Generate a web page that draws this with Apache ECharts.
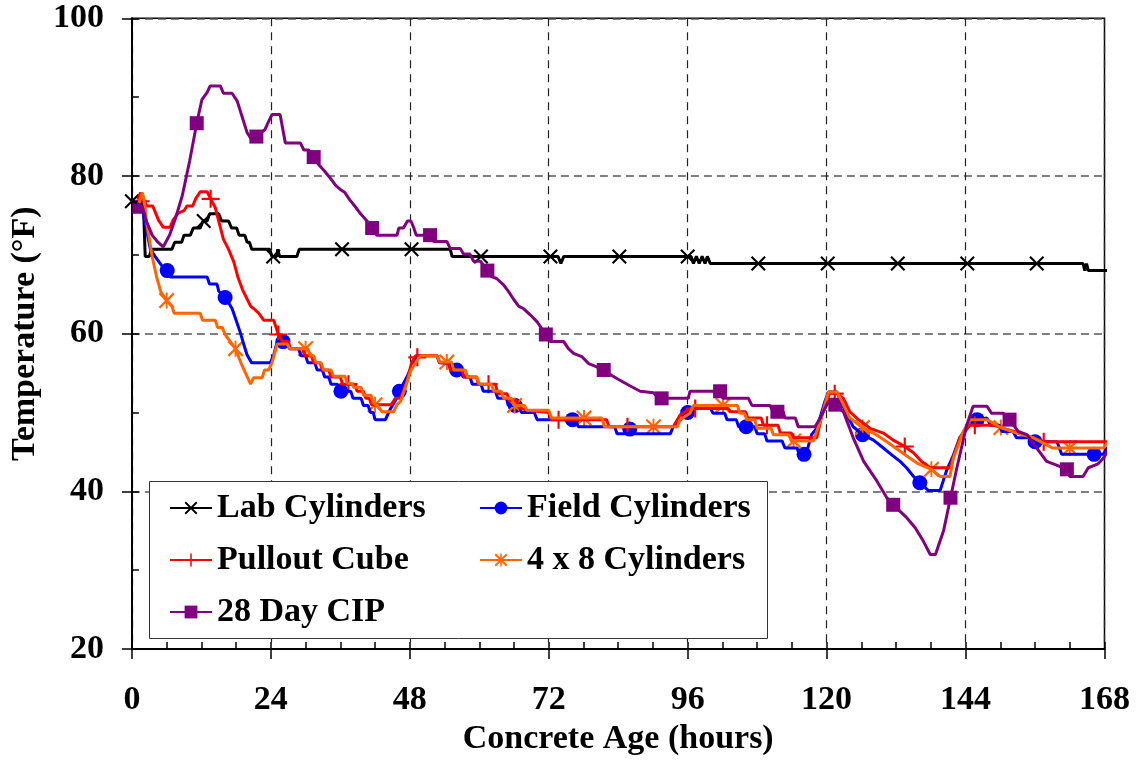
<!DOCTYPE html>
<html>
<head>
<meta charset="utf-8">
<title>Concrete temperature</title>
<script src="https://cdn.jsdelivr.net/npm/echarts@6/dist/echarts.min.js"></script>
<style>
  html, body { margin: 0; padding: 0; background: #fff; }
  #chart { width: 1142px; height: 761px; }
</style>
</head>
<body>
<div id="chart"></div>
<script>
// hours vs temperature (F)
var labCyl = [[0,76.8],[1.6,76.4],[2.0,76.0],[2.3,69.8],[3.0,69.8],[3.4,70.7],[6.9,70.7],[7.4,71.6],[8.6,71.6],[9.0,72.5],[10.1,72.5],[10.6,73.4],[11.8,73.4],[12.3,74.3],[13.0,74.3],[13.4,75.2],[15.0,75.2],[15.5,74.3],[16.7,74.3],[17.2,73.4],[18.1,73.4],[18.5,72.5],[19.5,72.5],[19.9,71.6],[20.3,71.6],[20.7,70.7],[23.8,70.7],[24.2,69.8],[25.0,69.8],[25.2,70.7],[25.5,69.8],[28.5,69.8],[28.9,70.7],[55.0,70.7],[55.3,69.8],[73.6,69.8],[74.1,68.9],[74.6,69.8],[96.6,69.8],[97.0,68.9],[97.5,69.8],[98.0,68.9],[98.5,69.8],[99.0,68.9],[99.4,69.8],[99.9,68.9],[164.3,68.9],[164.6,68.0],[164.9,68.9],[165.2,68.0],[169.5,68.0]];
var labMarks = [[0,76.8],[12.4,74.3],[24.4,69.8],[36.3,70.7],[48.3,70.7],[60.3,69.8],[72.3,69.8],[84.2,69.8],[96.0,69.8],[108.2,68.9],[120.2,68.9],[132.3,68.9],[144.3,68.9],[156.3,68.9]];

var fieldCyl = [[0.8,76.5],[1.8,76.1],[2.2,74.3],[2.7,72.5],[3.2,70.7],[4.0,69.8],[4.9,68.9],[5.8,68.0],[6.6,67.2],[13.0,67.2],[13.4,66.3],[14.7,66.3],[15.0,65.4],[15.6,64.9],[16.3,64.4],[17.3,63.2],[18.0,61.7],[18.7,60.2],[19.3,58.7],[19.9,57.3],[20.7,56.3],[23.9,56.3],[24.5,57.3],[25.1,59.0],[26.7,59.0],[27.2,58.1],[28.8,58.1],[29.2,57.2],[30.0,57.2],[30.4,56.3],[31.6,56.3],[32.0,55.4],[32.9,55.4],[33.3,54.5],[34.0,54.5],[34.4,53.6],[35.5,53.6],[35.9,52.7],[37.8,52.7],[38.2,51.8],[39.6,51.8],[40.0,50.9],[40.8,50.9],[41.2,50.0],[41.7,50.0],[42.0,49.1],[43.8,49.1],[44.6,50.4],[45.5,51.5],[46.2,52.7],[47.5,54.5],[48.4,56.0],[49.2,57.2],[52.7,57.2],[53.2,56.3],[55.0,56.3],[55.4,55.4],[56.8,55.4],[57.2,54.5],[58.4,54.5],[58.8,53.6],[60.3,53.6],[60.7,52.7],[62.8,52.7],[63.2,51.8],[64.7,51.8],[65.0,50.9],[66.9,50.9],[67.3,50.0],[69.5,50.0],[70.0,49.1],[76.6,49.1],[77.1,48.2],[83.4,48.2],[83.8,47.3],[93.0,47.3],[93.5,48.2],[94.8,49.1],[96.0,50.0],[96.8,50.6],[99.9,50.6],[100.4,49.9],[102.4,49.9],[102.8,49.1],[104.4,49.1],[104.8,48.2],[107.6,48.2],[108.0,47.3],[109.3,47.3],[109.7,46.4],[112.3,46.4],[112.8,45.5],[114.9,45.5],[115.3,44.6],[116.4,44.6],[117.4,47.2],[118.3,48.0],[119.7,51.4],[120.3,52.6],[121.8,52.6],[123.5,49.7],[124.6,48.2],[126.2,47.2],[128.1,46.5],[129.8,45.5],[131.3,44.6],[132.7,43.8],[133.8,43.0],[135.0,41.9],[136.1,41.1],[137.6,40.1],[139.6,40.1],[140.7,42.6],[141.9,44.6],[143.0,46.8],[144.8,48.9],[146.0,49.1],[147.7,49.3],[148.3,48.4],[149.8,48.4],[150.3,47.6],[152.2,47.6],[152.8,46.8],[155.0,46.8],[155.5,46.3],[159.8,46.3],[160.2,45.5],[160.6,44.7],[167.8,44.7],[168.4,45.5],[169.5,45.8]];
var fieldMarks = [[6.1,68.0],[16.1,64.6],[26.1,59.0],[36.1,52.7],[46.2,52.7],[56.1,55.4],[66.2,50.9],[76.1,49.1],[86.0,47.9],[96.0,50.0],[106.1,48.2],[116.1,44.7],[126.2,47.2],[136.1,41.1],[146.0,49.1],[156.0,46.3],[166.2,44.7]];

var pulloutCube = [[1.0,77.0],[1.5,77.9],[1.9,77.0],[2.6,76.2],[3.6,76.2],[4.1,75.3],[4.6,74.4],[5.4,73.5],[6.6,73.5],[7.1,74.4],[8.0,75.3],[9.0,75.6],[9.5,76.2],[10.5,76.2],[11.0,77.1],[11.8,78.0],[13.0,78.0],[13.6,77.1],[14.4,76.0],[15.1,74.0],[15.8,72.0],[16.7,70.7],[17.6,69.1],[18.3,67.2],[19.1,65.6],[19.9,64.4],[20.5,63.5],[21.0,63.2],[21.9,62.6],[22.8,61.7],[24.5,61.7],[24.9,60.8],[25.3,59.9],[26.0,59.0],[27.0,59.0],[27.4,58.1],[29.5,58.1],[29.9,57.2],[31.0,57.2],[31.4,56.3],[32.5,56.3],[32.9,55.4],[34.0,55.4],[34.4,54.5],[36.0,54.5],[36.4,53.6],[38.5,53.6],[38.9,52.7],[40.0,52.7],[40.4,51.8],[41.0,51.8],[41.4,51.0],[44.8,51.0],[45.5,51.8],[46.4,51.8],[47.5,53.9],[48.3,56.3],[49.0,57.2],[52.7,57.2],[53.1,56.3],[54.6,56.3],[55.0,55.4],[57.0,55.4],[57.4,54.5],[59.5,54.5],[59.9,53.6],[62.8,53.6],[63.2,52.4],[64.8,52.4],[65.2,51.5],[66.5,51.5],[66.9,50.6],[68.2,50.3],[72.0,50.0],[72.4,49.1],[82.0,49.1],[82.4,48.2],[93.5,48.2],[94.7,49.7],[96.5,50.5],[103.0,50.5],[103.4,50.1],[106.0,50.1],[106.4,49.3],[108.7,49.3],[109.1,48.4],[111.6,48.4],[112.0,47.4],[113.9,47.4],[114.3,46.8],[118.3,46.8],[119.2,49.7],[120.6,52.6],[121.8,52.4],[122.9,51.8],[124.0,50.1],[125.5,49.1],[127.5,48.0],[129.8,47.4],[131.5,46.5],[133.5,45.7],[135.0,44.9],[136.4,43.8],[137.9,43.0],[141.3,43.0],[143.0,46.8],[144.8,48.4],[148.8,48.4],[150.5,48.0],[153.4,47.4],[155.7,46.8],[157.5,46.3],[169.5,46.3]];
var pulloutMarks = [[1.5,76.8],[13.6,77.1],[25.3,59.9],[37.4,53.6],[49.3,57.0],[61.6,53.6],[73.7,49.1],[85.6,48.2],[97.3,50.5],[109.7,48.4],[121.4,52.4],[133.5,45.7],[145.6,48.4],[157.5,46.3]];

var cyl4x8 = [[1.2,76.5],[1.8,77.9],[2.1,77.0],[2.5,74.3],[2.9,72.5],[3.5,69.8],[4.3,67.1],[5.0,65.3],[6.0,64.2],[6.9,63.5],[7.3,62.6],[11.8,62.6],[12.2,61.7],[14.4,61.7],[14.8,60.8],[15.6,60.8],[16.1,59.9],[17.0,59.0],[17.9,58.1],[19.0,56.0],[20.5,53.6],[21.0,54.4],[22.5,54.4],[22.9,55.4],[23.6,55.4],[24.2,56.3],[25.1,58.7],[26.8,58.7],[27.3,58.1],[30.4,58.1],[30.8,57.2],[31.4,57.2],[31.8,56.3],[32.7,56.3],[33.1,55.4],[34.4,55.4],[34.8,54.6],[36.8,54.6],[37.2,53.7],[38.0,53.7],[38.3,53.2],[39.6,53.2],[40.0,52.2],[41.3,52.2],[41.7,51.2],[42.4,50.9],[43.2,50.1],[45.2,50.1],[45.8,51.0],[46.4,51.4],[47.2,53.1],[48.1,55.2],[48.7,56.0],[49.8,57.2],[52.7,57.2],[53.2,56.4],[55.2,56.4],[55.6,55.4],[57.6,55.4],[58.0,54.5],[59.6,54.5],[60.0,53.6],[62.1,53.6],[62.5,52.7],[63.8,52.7],[64.2,51.8],[65.6,51.8],[66.0,50.9],[67.8,50.9],[68.2,50.3],[72.0,50.3],[72.5,49.3],[81.2,49.3],[81.6,48.2],[94.2,48.2],[94.7,49.1],[96.4,49.9],[97.0,50.9],[104.6,50.9],[105.0,49.9],[105.8,49.9],[106.2,49.1],[107.6,49.1],[108.0,48.0],[110.4,48.0],[110.8,47.2],[113.5,47.2],[113.9,46.4],[117.7,46.4],[118.9,48.9],[120.3,52.6],[121.8,52.6],[122.9,51.0],[124.0,49.3],[126.2,48.1],[128.1,47.4],[130.4,46.3],[132.7,45.1],[135.6,43.6],[138.1,42.8],[139.6,41.9],[141.3,41.9],[141.9,44.2],[143.6,47.6],[144.8,49.1],[147.7,49.1],[150.1,48.1],[152.8,47.4],[155.7,46.8],[158.0,45.9],[159.0,45.5],[167.8,45.5],[168.4,46.1],[169.5,46.1]];
var cyl4x8Marks = [[6.0,64.2],[17.9,58.1],[30.0,58.1],[42.0,51.0],[54.4,56.4],[66.1,50.9],[78.1,49.3],[90.1,48.2],[102.1,50.9],[114.3,46.4],[126.2,48.1],[138.1,42.8],[150.1,48.1],[162.0,45.5]];

var cip28 = [[0.9,76.5],[1.8,76.1],[2.5,74.3],[3.5,72.5],[4.5,71.6],[5.4,71.0],[6.5,72.5],[7.6,74.8],[8.7,77.5],[10.0,82.0],[11.2,86.7],[12.1,89.7],[13.0,90.6],[13.5,91.4],[15.3,91.4],[15.8,90.5],[17.3,90.5],[18.2,89.5],[19.0,87.6],[19.9,85.5],[20.7,84.6],[21.5,85.0],[23.0,85.9],[23.6,86.9],[24.2,87.8],[25.6,87.8],[26.5,84.2],[29.1,84.2],[29.7,83.3],[30.5,83.3],[31.4,82.4],[32.2,81.5],[33.3,80.6],[34.3,79.7],[35.2,78.8],[36.0,78.3],[36.8,77.9],[37.6,77.0],[38.6,76.1],[39.5,75.2],[40.6,74.3],[41.5,73.4],[42.3,72.5],[45.8,72.5],[46.1,73.4],[46.9,73.4],[47.6,74.3],[48.2,74.3],[48.7,73.4],[49.1,72.5],[51.5,72.5],[52.1,71.7],[54.4,71.7],[55.0,70.8],[56.7,70.8],[57.3,70.1],[58.4,70.1],[59.0,69.2],[60.2,69.2],[61.4,68.0],[62.2,67.2],[63.0,67.0],[64.2,66.2],[65.1,65.3],[65.9,64.4],[66.8,63.5],[67.6,63.2],[68.8,62.4],[70.0,61.5],[71.5,59.9],[72.3,59.0],[74.6,59.0],[75.4,58.1],[76.3,57.5],[77.7,57.1],[78.9,56.2],[80.3,55.8],[81.5,55.4],[82.9,54.7],[84.3,54.1],[86.0,53.4],[87.8,52.7],[90.1,52.5],[91.0,51.8],[96.1,51.8],[96.4,52.7],[101.6,52.7],[102.1,51.8],[106.5,51.8],[107.1,50.9],[110.2,50.9],[110.8,50.1],[112.5,50.1],[112.8,49.3],[114.6,49.3],[115.1,48.2],[118.0,48.2],[118.9,49.3],[120.3,51.4],[121.5,51.0],[122.9,50.1],[124.6,46.8],[126.4,43.8],[128.7,41.3],[130.4,39.2],[131.5,38.3],[133.8,36.7],[135.3,35.4],[136.7,33.7],[137.9,32.0],[138.8,32.0],[140.2,35.0],[141.4,39.2],[142.5,43.0],[144.2,48.4],[145.3,50.8],[147.7,50.8],[148.5,49.9],[150.5,49.9],[151.6,49.1],[153.1,47.6],[154.6,47.2],[156.3,45.5],[158.0,43.8],[159.5,43.4],[161.5,42.8],[162.0,41.9],[164.3,41.9],[165.2,43.0],[166.9,43.5],[167.8,44.2],[168.9,45.5],[169.5,45.8]];
var cip28Marks = [[1.3,76.1],[11.2,86.7],[21.5,85.0],[31.4,82.4],[41.5,73.4],[51.5,72.5],[61.4,68.0],[71.5,59.9],[81.5,55.4],[91.5,51.8],[101.6,52.7],[111.5,50.1],[121.5,51.0],[131.5,38.3],[141.4,39.2],[151.6,49.1],[161.5,42.8]];

var font = '"Liberation Serif", "Times New Roman", serif';

var crossIcon = 'path://M1,0L10,9L9,10L0,1ZM9,0L10,1L1,10L0,9Z';
var plusIcon = 'path://M4.4,0L5.6,0L5.6,4.4L10,4.4L10,5.6L5.6,5.6L5.6,10L4.4,10L4.4,5.6L0,5.6L0,4.4L4.4,4.4Z';
var starIcon = 'path://M1,0L10,9L9,10L0,1ZM9,0L10,1L1,10L0,9ZM4.4,0L5.6,0L5.6,10L4.4,10Z';

function lineSeries(name, data, color, symbol) {
    return {
        name: name,
        type: 'line',
        data: data,
        color: color,
        symbol: symbol,
        showSymbol: false,
        clip: false,
        lineStyle: { width: 3, color: color },
        itemStyle: { color: color },
        silent: true
    };
}
function markSeries(name, data, color, symbol, size) {
    return {
        name: name,
        type: 'scatter',
        data: data,
        symbol: symbol,
        symbolSize: size,
        clip: false,
        itemStyle: { color: color, opacity: 1 },
        silent: true
    };
}

var myChart = echarts.init(document.getElementById('chart'));
var labelText = { fontFamily: font, fontWeight: 'bold', fontSize: 34, color: '#000' };
var option = {
    animation: false,
    backgroundColor: '#fff',
    grid: {
        left: 131.5, right: 37.5, top: 18.3, bottom: 109,
        show: true, borderColor: '#000', borderWidth: 1.5
    },
    legend: [
        {
            orient: 'vertical', left: 169, top: 491, padding: 0,
            itemWidth: 42, itemHeight: 16, itemGap: 18,
            textStyle: labelText,
            data: ['Lab Cylinders', 'Pullout Cube', '28 Day CIP']
        },
        {
            orient: 'vertical', left: 479, top: 491, padding: 0,
            itemWidth: 42, itemHeight: 16, itemGap: 18,
            textStyle: labelText,
            data: ['Field Cylinders', '4 x 8 Cylinders']
        }
    ],
    graphic: [{
        type: 'rect', left: 149, top: 481, z: 3,
        shape: { width: 618, height: 157 },
        style: { fill: '#fff', stroke: '#333', lineWidth: 1 }
    }],
    xAxis: [
        {
            type: 'value', min: 0, max: 168, interval: 24, position: 'bottom',
            name: 'Concrete Age (hours)', nameLocation: 'middle', nameGap: 70,
            nameTextStyle: labelText,
            axisLine: { lineStyle: { color: '#000', width: 2 } },
            axisTick: { show: true, inside: false, length: 10, lineStyle: { color: '#000', width: 1.5 } },
            axisLabel: { margin: 34, fontFamily: font, fontWeight: 'bold', fontSize: 34, color: '#000' },
            splitLine: { show: true, lineStyle: { color: '#222', width: 1.2, type: [8, 6] } }
        },
        {
            type: 'value', min: 0, max: 168, interval: 6, position: 'bottom',
            axisLine: { show: false },
            axisTick: { show: true, inside: true, length: 7, lineStyle: { color: '#000', width: 1.5 } },
            axisLabel: { show: false },
            splitLine: { show: false }
        }
    ],
    yAxis: [
        {
            type: 'value', min: 20, max: 100, interval: 20, position: 'left',
            name: 'Temperature (°F)', nameLocation: 'middle', nameGap: 88,
            nameTextStyle: labelText,
            axisLine: { show: true, lineStyle: { color: '#000', width: 2 } },
            axisTick: { show: true, inside: false, length: 10, lineStyle: { color: '#000', width: 1.5 } },
            axisLabel: { margin: 28, fontFamily: font, fontWeight: 'bold', fontSize: 34, color: '#000' },
            splitLine: { show: true, lineStyle: { color: '#555', width: 1.5, type: [8, 5] } }
        },
        {
            type: 'value', min: 20, max: 100, interval: 10, position: 'left',
            axisLine: { show: false },
            axisTick: { show: true, inside: true, length: 7, lineStyle: { color: '#000', width: 1.5 } },
            axisLabel: { show: false },
            splitLine: { show: false }
        }
    ],
    series: [
        lineSeries('Lab Cylinders', labCyl, '#000000', crossIcon),
        markSeries('Lab Cylinders', labMarks, '#000000', crossIcon, 15),
        lineSeries('Field Cylinders', fieldCyl, '#0000ff', 'circle'),
        markSeries('Field Cylinders', fieldMarks, '#0000ff', 'circle', 15),
        lineSeries('Pullout Cube', pulloutCube, '#ff0000', plusIcon),
        markSeries('Pullout Cube', pulloutMarks, '#ff0000', plusIcon, 18),
        lineSeries('4 x 8 Cylinders', cyl4x8, '#ff6600', starIcon),
        markSeries('4 x 8 Cylinders', cyl4x8Marks, '#ff6600', starIcon, 16),
        lineSeries('28 Day CIP', cip28, '#800080', 'rect'),
        markSeries('28 Day CIP', cip28Marks, '#800080', 'rect', 14)
    ]
};
myChart.setOption(option);
</script>
</body>
</html>
